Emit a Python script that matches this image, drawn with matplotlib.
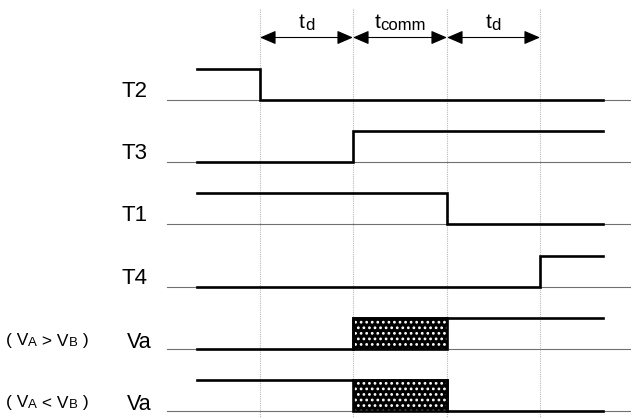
import matplotlib.pyplot as plt
from matplotlib.patches import Rectangle
from matplotlib.transforms import offset_copy

plt.rcParams['font.family'] = ['Liberation Sans', 'DejaVu Sans']
plt.rcParams['hatch.linewidth'] = 1.2

# timing (pixel-like units along x)
t_start = 197
t_end = 603
edges = [260, 353, 447, 540]
interval_labels = [('t', 'd'), ('t', 'comm'), ('t', 'd')]

signal_names = ['T2', 'T3', 'T1', 'T4', 'Va', 'Va']
baselines = [100, 162, 224, 287, 349, 411]
high = 31
# each signal: list of (time, level) step points
signals = [
    [(t_start, 1), (260, 0), (t_end, 0)],
    [(t_start, 0), (353, 1), (t_end, 1)],
    [(t_start, 1), (447, 0), (t_end, 0)],
    [(t_start, 0), (540, 1), (t_end, 1)],
    [(t_start, 0), (353, 1), (t_end, 1)],
    [(t_start, 1), (447, 0), (t_end, 0)],
]
side_notes = {4: [('( V', 'A'), (' > V', 'B'), (' )', '')],
              5: [('( V', 'A'), (' < V', 'B'), (' )', '')]}
hatch_span = (353, 447)

fig = plt.figure(figsize=(6.31, 4.18), dpi=100)
ax = fig.add_axes([0, 0, 1, 1])
ax.set_xlim(0, 631)
ax.set_ylim(418, 0)
ax.axis('off')
fig.canvas.draw()
renderer = fig.canvas.get_renderer()


def rich_text(x, y, parts, size, sub_size, drop, ha='left'):
    """Draw main/sub pairs on one baseline."""
    width = 0
    pieces = []
    for main, sub in parts:
        for s, fs, dy in ((main, size, 0), (sub, sub_size, drop)):
            if not s:
                continue
            t = ax.text(0, 0, s, fontsize=fs)
            w = t.get_window_extent(renderer).width
            t.remove()
            pieces.append((s, fs, dy, width))
            width += w
    shift = {'center': -width / 2, 'right': -width}.get(ha, 0)
    for s, fs, dy, off in pieces:
        tr = offset_copy(ax.transData, fig=fig, x=(off + shift) * 72 / fig.dpi,
                         y=-dy * 72 / fig.dpi, units='points')
        ax.text(x, y, s, fontsize=fs, va='baseline', ha='left', transform=tr)


# dotted guides
for e in edges:
    ax.plot([e, e], [9, 418], color='#b8b8b8', lw=0.8, ls=(0, (1, 1)), zorder=1)

# interval arrows
arrow_y = 37.5
for (a, b), lab in zip(zip(edges[:-1], edges[1:]), interval_labels):
    ax.annotate('', xy=(a, arrow_y), xytext=(b, arrow_y),
                arrowprops=dict(arrowstyle='<|-|>,head_length=0.7,head_width=0.3',
                                color='black', lw=0.8,
                                mutation_scale=14, shrinkA=0, shrinkB=0))
    rich_text((a + b) / 2, 28, [lab], 15, 12, 1.5, ha='center')

for i, (name, base, sig) in enumerate(zip(signal_names, baselines, signals)):
    ax.plot([167, 631], [base, base], color='#707070', lw=0.8, zorder=2)
    xs, ys = [], []
    for j, (t, lev) in enumerate(sig):
        y = base - high * lev
        if j > 0:
            xs.append(t)
            ys.append(ys[-1])
        xs.append(t)
        ys.append(y)
    ax.plot(xs, ys, color='black', lw=1.9, solid_joinstyle='miter', zorder=4)
    if name == 'Va':
        ax.text(152, base - 0.5, name, ha='right', va='baseline', fontsize=15.5)
    else:
        ax.text(148, base - 3, name, ha='right', va='baseline', fontsize=16)
    if i in side_notes:
        rich_text(47, base - 3.5, side_notes[i], 12.5, 9.5, 0, ha='center')
    if name == 'Va':
        x0, x1 = hatch_span
        ax.add_patch(Rectangle((x0, base - high), x1 - x0, high, facecolor='black',
                               edgecolor='white', hatch='...', lw=0, zorder=3))
        ax.add_patch(Rectangle((x0, base - high), x1 - x0, high, facecolor='none',
                               edgecolor='black', lw=1.9, zorder=4))

fig.savefig('out.png', dpi=100)
